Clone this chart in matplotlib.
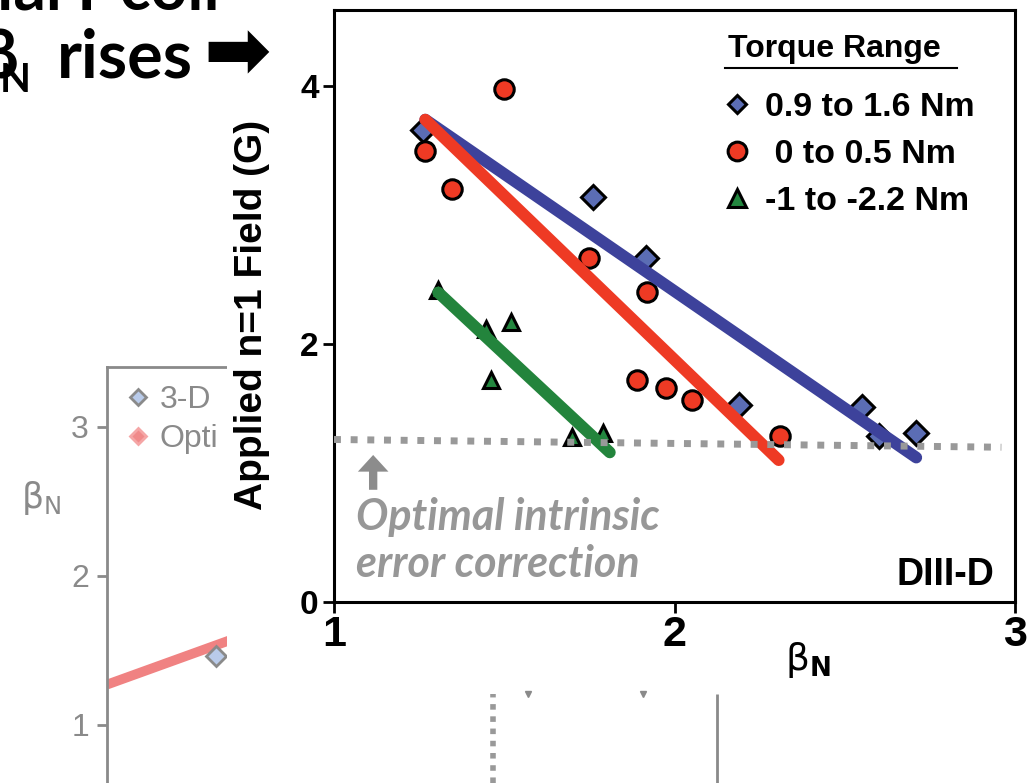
import matplotlib
matplotlib.use("Agg")
import matplotlib.pyplot as plt
from matplotlib.lines import Line2D
from matplotlib.patches import Rectangle
from matplotlib import font_manager

# ---- data ----
# main chart (DIII-D): applied n=1 field vs beta_N, by torque range
blue_x = [1.26, 1.76, 1.915, 2.19, 2.55, 2.60, 2.71]
blue_y = [3.66, 3.14, 2.67, 1.53, 1.51, 1.29, 1.31]
red_x = [1.268, 1.347, 1.50, 1.75, 1.92, 1.89, 1.975, 2.05, 2.31]
red_y = [3.50, 3.20, 3.98, 2.67, 2.40, 1.72, 1.66, 1.57, 1.29]
green_x = [1.306, 1.447, 1.52, 1.46, 1.70, 1.79]
green_y = [2.42, 2.12, 2.17, 1.72, 1.28, 1.31]

blue_fit_x, blue_fit_y = [1.268, 2.71], [3.74, 1.12]
red_fit_x, red_fit_y = [1.268, 2.306], [3.74, 1.10]
green_fit_x, green_fit_y = [1.306, 1.81], [2.40, 1.16]

optimal_x, optimal_y = [1.0, 2.96], [1.26, 1.20]
arrow_x, arrow_y0, arrow_y1 = 1.115, 0.87, 1.14

legend_labels = ["0.9 to 1.6 Nm", " 0 to 0.5 Nm", "-1 to -2.2 Nm"]
x_ticks = [1, 2, 3]
y_ticks = [0, 2, 4]

# background slide chart (mostly hidden)
bg_fit_x, bg_fit_y = [0.0, 2.0], [1.27, 1.72]
bg_diamond_x, bg_diamond_y = [1.17], [1.46]
bg_dotted_x, bg_solid_x = 4.16, 6.57
bg_marks_x, bg_marks_y = [4.53, 5.77], [1.21, 1.21]
bg_ticks = [1, 2, 3]
bg_labels = ["3-D", "Opti"]

W, H = 1036, 783
fig = plt.figure(figsize=(W / 100, H / 100), dpi=100)


def fx(p):
    return p / W


def fy(p):
    return 1 - p / H


names = {f.name for f in font_manager.fontManager.ttflist}
NARROW = "Liberation Sans Narrow" if "Liberation Sans Narrow" in names else "Liberation Sans"
GRAY = "#8a8a8a"

# ---- background chart ----
bg = fig.add_axes([fx(107), 0, 1 - fx(107), fy(367)], zorder=0)
bg.set_xlim(0, 10)
bg.set_ylim(0.61, 3.40)
for s in ["right", "bottom"]:
    bg.spines[s].set_visible(False)
for s in ["left", "top"]:
    bg.spines[s].set_color(GRAY)
    bg.spines[s].set_linewidth(2)
bg.set_xticks([])
bg.set_yticks(bg_ticks, labels=[str(t) for t in bg_ticks], family="Liberation Sans")
bg.tick_params(axis="y", colors=GRAY, labelsize=23, length=7, width=2, pad=6)
bg.plot(bg_fit_x, bg_fit_y, color="#f08282", lw=7, solid_capstyle="butt")
bg.plot(bg_diamond_x, bg_diamond_y, "D", ms=10, mfc="#b9cbea", mec=GRAY, mew=2)
bg.vlines(bg_dotted_x, 0.61, 1.21, color="#999999", lw=4, linestyles=(0, (1, 1.2)))
bg.vlines(bg_solid_x, 0.61, 1.21, color=GRAY, lw=2)
bg.plot(bg_marks_x, bg_marks_y, "v", ms=4, color=GRAY)
bg.text(-0.071, 0.685, r"$\mathrm{\beta}_\mathrm{N}$", transform=bg.transAxes, fontsize=25,
        color=GRAY, ha="center", va="center")
bg_handles = [Line2D([], [], marker="D", ls="none", ms=8.5, mfc="#b9cbea", mec=GRAY, mew=2),
              Line2D([], [], marker="D", ls="none", ms=8.5, mfc="#f08a8a", mec="#f5a6a6", mew=2)]
bg.legend(bg_handles, bg_labels, loc="upper left", bbox_to_anchor=(0.0215, 0.957),
          frameon=False, prop={"family": "Liberation Sans", "size": 23}, labelcolor=GRAY,
          handlelength=0.69, handletextpad=0.34, labelspacing=0.3, borderpad=0,
          borderaxespad=0)

# white panel of the pasted main chart
fig.add_artist(Rectangle((fx(227), fy(690)), 1 - fx(227), 1 - fy(690),
                         transform=fig.transFigure, facecolor="white",
                         edgecolor="none", zorder=0.5))

# ---- main chart ----
ax = fig.add_axes([fx(334), fy(602), fx(1015) - fx(334), fy(10) - fy(602)], zorder=1)
ax.set_xlim(1, 3)
ax.set_ylim(0, 4.59)
for s in ax.spines.values():
    s.set_linewidth(2.2)
ax.set_xticks(x_ticks, labels=[str(t) for t in x_ticks], fontsize=31,
              fontweight="bold", family=NARROW)
ax.set_yticks(y_ticks, labels=[str(t) for t in y_ticks], fontsize=24,
              fontweight="bold", family=NARROW)
ax.tick_params(axis="x", direction="out", length=8, width=2, pad=1)
ax.tick_params(axis="y", direction="out", length=8, width=2, pad=3)

ax.set_ylabel("Applied n=1 Field (G)", fontsize=28, fontweight="bold", family="Liberation Sans")
ax.yaxis.set_label_coords(-0.094, 0.485)
ax.set_xlabel(r"$\mathrm{\beta}_\mathbf{N}$", fontsize=27)
ax.xaxis.set_label_coords(0.696, -0.064)

BLUE_M, BLUE_L = "#5b6db4", "#3d429b"
RED = "#ee3a24"
GREEN_M, GREEN_L = "#23873f", "#23843c"

ax.plot(blue_x, blue_y, "D", ls="none", ms=12, mfc=BLUE_M, mec="black", mew=2.2, zorder=2)
ax.plot(red_x, red_y, "o", ls="none", ms=14, mfc=RED, mec="black", mew=2.2, zorder=2)
ax.plot(green_x, green_y, "^", ls="none", ms=12, mfc=GREEN_M, mec="black", mew=2.2, zorder=2)

ax.plot(blue_fit_x, blue_fit_y, color=BLUE_L, lw=8.5, solid_capstyle="round", zorder=3)
ax.plot(red_fit_x, red_fit_y, color=RED, lw=8.5, solid_capstyle="round", zorder=3.1)
ax.plot(green_fit_x, green_fit_y, color=GREEN_L, lw=8.5, solid_capstyle="round", zorder=3)

ax.plot(optimal_x, optimal_y, color="#999999", lw=5, ls=(0, (1.0, 1.4)),
        dash_capstyle="butt", zorder=4)

ax.annotate("", xy=(arrow_x, arrow_y1), xytext=(arrow_x, arrow_y0),
            arrowprops=dict(facecolor="#8c8c8c", edgecolor="none", width=6,
                            headwidth=22, headlength=12, shrink=0))
ax.text(1.066, 0.56, "Optimal intrinsic", fontsize=31, fontweight="bold",
        style="italic", family="Lato", color="#979797", va="baseline")
ax.text(1.066, 0.19, "error correction", fontsize=31, fontweight="bold",
        style="italic", family="Lato", color="#979797", va="baseline")
ax.text(2.938, 0.13, "DIII-D", fontsize=27, fontweight="bold", family=NARROW,
        ha="right", va="baseline")

handles = [Line2D([], [], marker="D", ls="none", ms=9.5, mfc=BLUE_M, mec="black", mew=2.2),
           Line2D([], [], marker="o", ls="none", ms=13.5, mfc=RED, mec="black", mew=2.2),
           Line2D([], [], marker="^", ls="none", ms=13, mfc=GREEN_M, mec="black", mew=2.2)]
ax.legend(handles, legend_labels, loc="upper left", bbox_to_anchor=(0.576, 0.862),
          frameon=False, prop={"family": NARROW, "weight": "bold", "size": 24.5},
          handlelength=0.65, handletextpad=0.5, labelspacing=0.48,
          borderpad=0, borderaxespad=0)
fig.text(fx(728), fy(57), "Torque Range", fontsize=23, fontweight="bold",
         family=NARROW, va="baseline", zorder=3)
fig.add_artist(Line2D([fx(725), fx(957)], [fy(68), fy(68)], color="black", lw=1.5,
                      transform=fig.transFigure, zorder=3))

# ---- slide title text at top left ----
fig.text(fx(-3), fy(10), "ial I-coil", fontsize=46, fontweight="bold",
         family=["Lato", "DejaVu Sans"], va="baseline", zorder=3)
fig.text(fx(19), fy(78), "β", fontsize=48, fontweight="bold",
         family=["Lato", "DejaVu Sans"], ha="right", va="baseline", zorder=3)
fig.text(fx(0), fy(92), "N", fontsize=29, fontweight="bold",
         family=["Lato", "DejaVu Sans"], va="baseline", zorder=3)
fig.text(fx(57), fy(78), "rises", fontsize=48, fontweight="bold",
         family=["Lato", "DejaVu Sans"], va="baseline", zorder=3)
fig.text(fx(237), fy(55), "\u27a1", fontsize=58, fontweight="bold", family="DejaVu Sans",
         ha="center", va="center", zorder=3)

fig.savefig("out.png", dpi=100, facecolor="white")
